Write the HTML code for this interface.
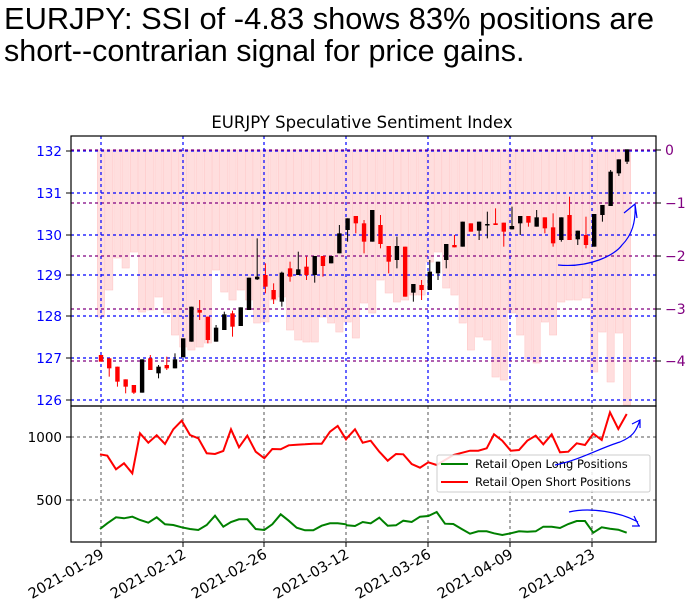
<!DOCTYPE html>
<html><head><meta charset="utf-8"><style>
body{margin:0;background:#fff;width:690px;height:616px;overflow:hidden}
svg{display:block;font-family:"DejaVu Sans","Liberation Sans",sans-serif}
</style></head><body>
<svg id="s" width="690" height="616" viewBox="0 0 690 616">
<text x="4" y="29" font-family="Liberation Sans, sans-serif" font-size="30.5" textLength="650" lengthAdjust="spacingAndGlyphs">EURJPY: SSI of -4.83 shows 83% positions are</text>
<text x="4" y="61" font-family="Liberation Sans, sans-serif" font-size="30.5">short--contrarian signal for price gains.</text>
<text x="362" y="128" font-size="16.5" text-anchor="middle">EURJPY Speculative Sentiment Index</text>
<g id="g"></g>
</svg>
<script>
const g=document.getElementById('g');let h='';
const X=i=>101+i*8.22;
const bars=[317,290,258,268,252,312,310,297,313,335,347,350,347,343,270,292,300,290,300,323,322,300,297,330,340,342,342,317,323,332,322,338,303,313,280,293,302,
300,295,295,262,252,288,295,323,350,337,340,377,380,313,335,360,363,322,335,302,300,300,298,372,332,382,333,405];
bars.forEach((b,i)=>{h+=`<rect x="${X(i)-3.6}" y="150" width="7.2" height="${b-150}" fill="#ffdede" stroke="#ffc8c8" stroke-width="0.6"/>`});
[151,193,235,275,316,358,400].forEach(y=>h+=`<line x1="71" x2="656" y1="${y}" y2="${y}" stroke="#00f" stroke-width="1.2" stroke-dasharray="3,3"/>`);
[150,203,256,309,361].forEach(y=>h+=`<line x1="71" x2="656" y1="${y}" y2="${y}" stroke="#800080" stroke-width="1.2" stroke-dasharray="3,3"/>`);
const vx=[101,183,264,346,428,510,592];
vx.forEach(x=>h+=`<line x1="${x}" x2="${x}" y1="136" y2="406" stroke="#00f" stroke-width="1.2" stroke-dasharray="3,3"/>`);
const c=[['r',765,785],['r',775,805,775,830],['r',800,845,800,860],['r',838,860,838,880],['r',855,878,855,882],['k',778,878],['r',775,810,765,810],['k',800,820,795,835],['r',795,805,770,810],['k',778,805,760,805],['k',715,772],['k',620,725],['r',630,638,600,660],['r',650,720,650,730],['k',683,725,675,725],['k',643,690,635,690],['r',640,680,632,710],['k',622,678],['k',533,630],['k',530,538,415,540],['r',525,560,490,580],['r',570,598,550,612],['k',518,605,515,620],['r',505,530,485,545],['k',508,525,455,525],['r',500,525,470,540],['k',468,525,468,548],['r',468,498,468,530],['k',468,490],['k',400,460,375,460],['k',355,390,355,425],['r',348,370,348,400],['r',370,425,360,460],['k',330,425],['r',375,432,345,445],['r',438,485,438,520],['k',438,480,410,505],
['r',440,590],['k',552,578,552,605],['r',555,570,540,600],['k',515,570,480,570],['k',485,520,485,540],['k',432,480,432,505],['r',435,442,405,442],['k',365,440],['r',370,395],['k',365,392,365,420],['k',372,375,335,415],['r',370,375,325,375],['r',368,395,368,440],['k',378,388,320,388],['k',348,370,348,405],['r',348,368,348,380],['k',352,380,330,380],['r',352,385,352,400],['r',382,430,340,440],['k',352,420,352,425],['r',345,420,290,420],['k',392,418,392,435],['r',405,435,350,445],['k',342,440],['k',315,345,315,365],['k',215,318,210,318],['k',178,220,178,228],['k',148,185,148,192]];
c.forEach((d,i)=>{const col=d[0]=='r'?'#f00':'#000';const x=X(i);const t=d[1]/3+100,b=d[2]/3+100;
 const wt=(d[3]||d[1])/3+100,wb=(d[4]||d[2])/3+100;
 h+=`<line x1="${x}" x2="${x}" y1="${wt}" y2="${wb}" stroke="${col}" stroke-width="1"/><rect x="${x-2.2}" y="${t}" width="4.4" height="${Math.max(b-t,1.5)}" fill="${col}"/>`;});
h+=`<rect x="71" y="136" width="585" height="270" fill="none" stroke="#000" stroke-width="1.2"/>`;
[[132,151],[131,193],[130,235],[129,275],[128,316],[127,358],[126,400]].forEach(([v,y])=>h+=`<line x1="66" x2="71" y1="${y}" y2="${y}" stroke="#000"/><text x="62" y="${y+5}" font-size="13.5" fill="#00f" text-anchor="end">${v}</text>`);
[['0',150],['−1',203],['−2',256],['−3',309],['−4',361]].forEach(([v,y])=>h+=`<line x1="656" x2="661" y1="${y}" y2="${y}" stroke="#000"/><text x="665" y="${y+5}" font-size="14" fill="#800080">${v}</text>`);
[437,500].forEach(y=>h+=`<line x1="71" x2="656" y1="${y}" y2="${y}" stroke="#555" stroke-width="1" stroke-dasharray="3,3"/>`);
vx.forEach(x=>h+=`<line x1="${x}" x2="${x}" y1="406" y2="542" stroke="#555" stroke-width="1" stroke-dasharray="3,3"/>`);
const red1=[[240,163],[262,167],[288,208],[312,190],[337,220],[360,100],[385,128],[410,106],[435,132],[460,88],[485,62],[510,105],[535,115],[560,160],[585,162],[610,153],[633,88],[657,142],[682,107],[707,155],[733,175],[757,147],[782,148],[806,136],[830,134],[855,133],[880,131],[905,131],[930,95],[953,78],[978,118]];
const red2=[[20,115],[45,88],[68,128],[92,122],[118,155],[143,182],[168,162],[190,163],[215,192],[240,203],[265,187],[290,195],[340,165],[390,152],[415,152],[440,145],[462,103],[487,122],[512,152],[537,150],[562,122],[587,107],[610,133],[635,103],[660,157],[685,155],[710,130],[735,135],[760,101],[785,120],[810,37],[835,87],[860,42]];
const gr1=[[240,387],[262,370],[288,352],[312,355],[337,350],[360,360],[385,368],[410,352],[435,373],[460,375],[485,382],[510,387],[535,390],[560,375],[585,347],[610,380],[633,366],[657,358],[682,358],[707,387],[733,390],[757,373],[782,343],[806,362],[830,383],[855,391],[880,391],[905,377],[930,370],[953,370],[978,373]];
const gr2=[[20,376],[45,378],[68,366],[92,370],[118,353],[143,377],[168,376],[190,362],[215,366],[240,350],[265,348],[290,336],[315,371],[340,372],[365,387],[390,401],[415,394],[440,394],[462,400],[487,405],[512,400],[537,394],[562,395],[587,394],[610,380],[635,380],[660,384],[685,372],[710,363],[735,363],[760,398],[785,382],[810,386],[835,389],[860,398]];
const pts=(a,b)=>a.map(p=>[(p[0]/3+20),(p[1]/3+400)]).concat(b.map(p=>[(p[0]/3+340),(p[1]/3+400)])).map(p=>p[0].toFixed(1)+','+p[1].toFixed(1)).join(' ');
h+=`<polyline points="${pts(red1,red2)}" fill="none" stroke="#f00" stroke-width="2"/>`;
h+=`<polyline points="${pts(gr1,gr2)}" fill="none" stroke="#008000" stroke-width="2"/>`;
h+=`<rect x="71" y="406" width="585" height="136" fill="none" stroke="#000" stroke-width="1.2"/>`;
[[1000,437],[500,500]].forEach(([v,y])=>h+=`<line x1="66" x2="71" y1="${y}" y2="${y}" stroke="#000"/><text x="62" y="${y+5}" font-size="13.5" fill="#000" text-anchor="end">${v}</text>`);
h+=`<rect x="437" y="455" width="213" height="37" rx="2" fill="#fff" fill-opacity="0.85" stroke="#ccc"/>`;
h+=`<line x1="441" x2="468" y1="464" y2="464" stroke="#008000" stroke-width="2"/><text x="475" y="468" font-size="11.5">Retail Open Long Positions</text>`;
h+=`<line x1="441" x2="468" y1="482" y2="482" stroke="#f00" stroke-width="2"/><text x="475" y="486" font-size="11.5">Retail Open Short Positions</text>`;
const dl=['2021-01-29','2021-02-12','2021-02-26','2021-03-12','2021-03-26','2021-04-09','2021-04-23'];
vx.forEach((x,i)=>{h+=`<line x1="${x}" x2="${x}" y1="542" y2="547" stroke="#000"/><text transform="translate(${x+4},${557}) rotate(-30)" font-size="14.5" text-anchor="end">${dl[i]}</text>`});
h+=`<path d="M558,265 C590,268 615,255 622,245 C632,235 636,222 635,204 M624,213 L635,204 L637,218" fill="none" stroke="#00f" stroke-width="1.2"/>`;
h+=`<path d="M555,465 C580,460 600,448 620,442 C632,437 636,432 640,420 M632,424 L640,420 L640,428" fill="none" stroke="#00f" stroke-width="1.2"/>`;
h+=`<path d="M569,512 C590,507 620,512 638,522 M634,516 L639,526 L640,526 M640,526 L632,526" fill="none" stroke="#00f" stroke-width="1.2"/>`;
g.innerHTML=h;
</script>
</body></html>
